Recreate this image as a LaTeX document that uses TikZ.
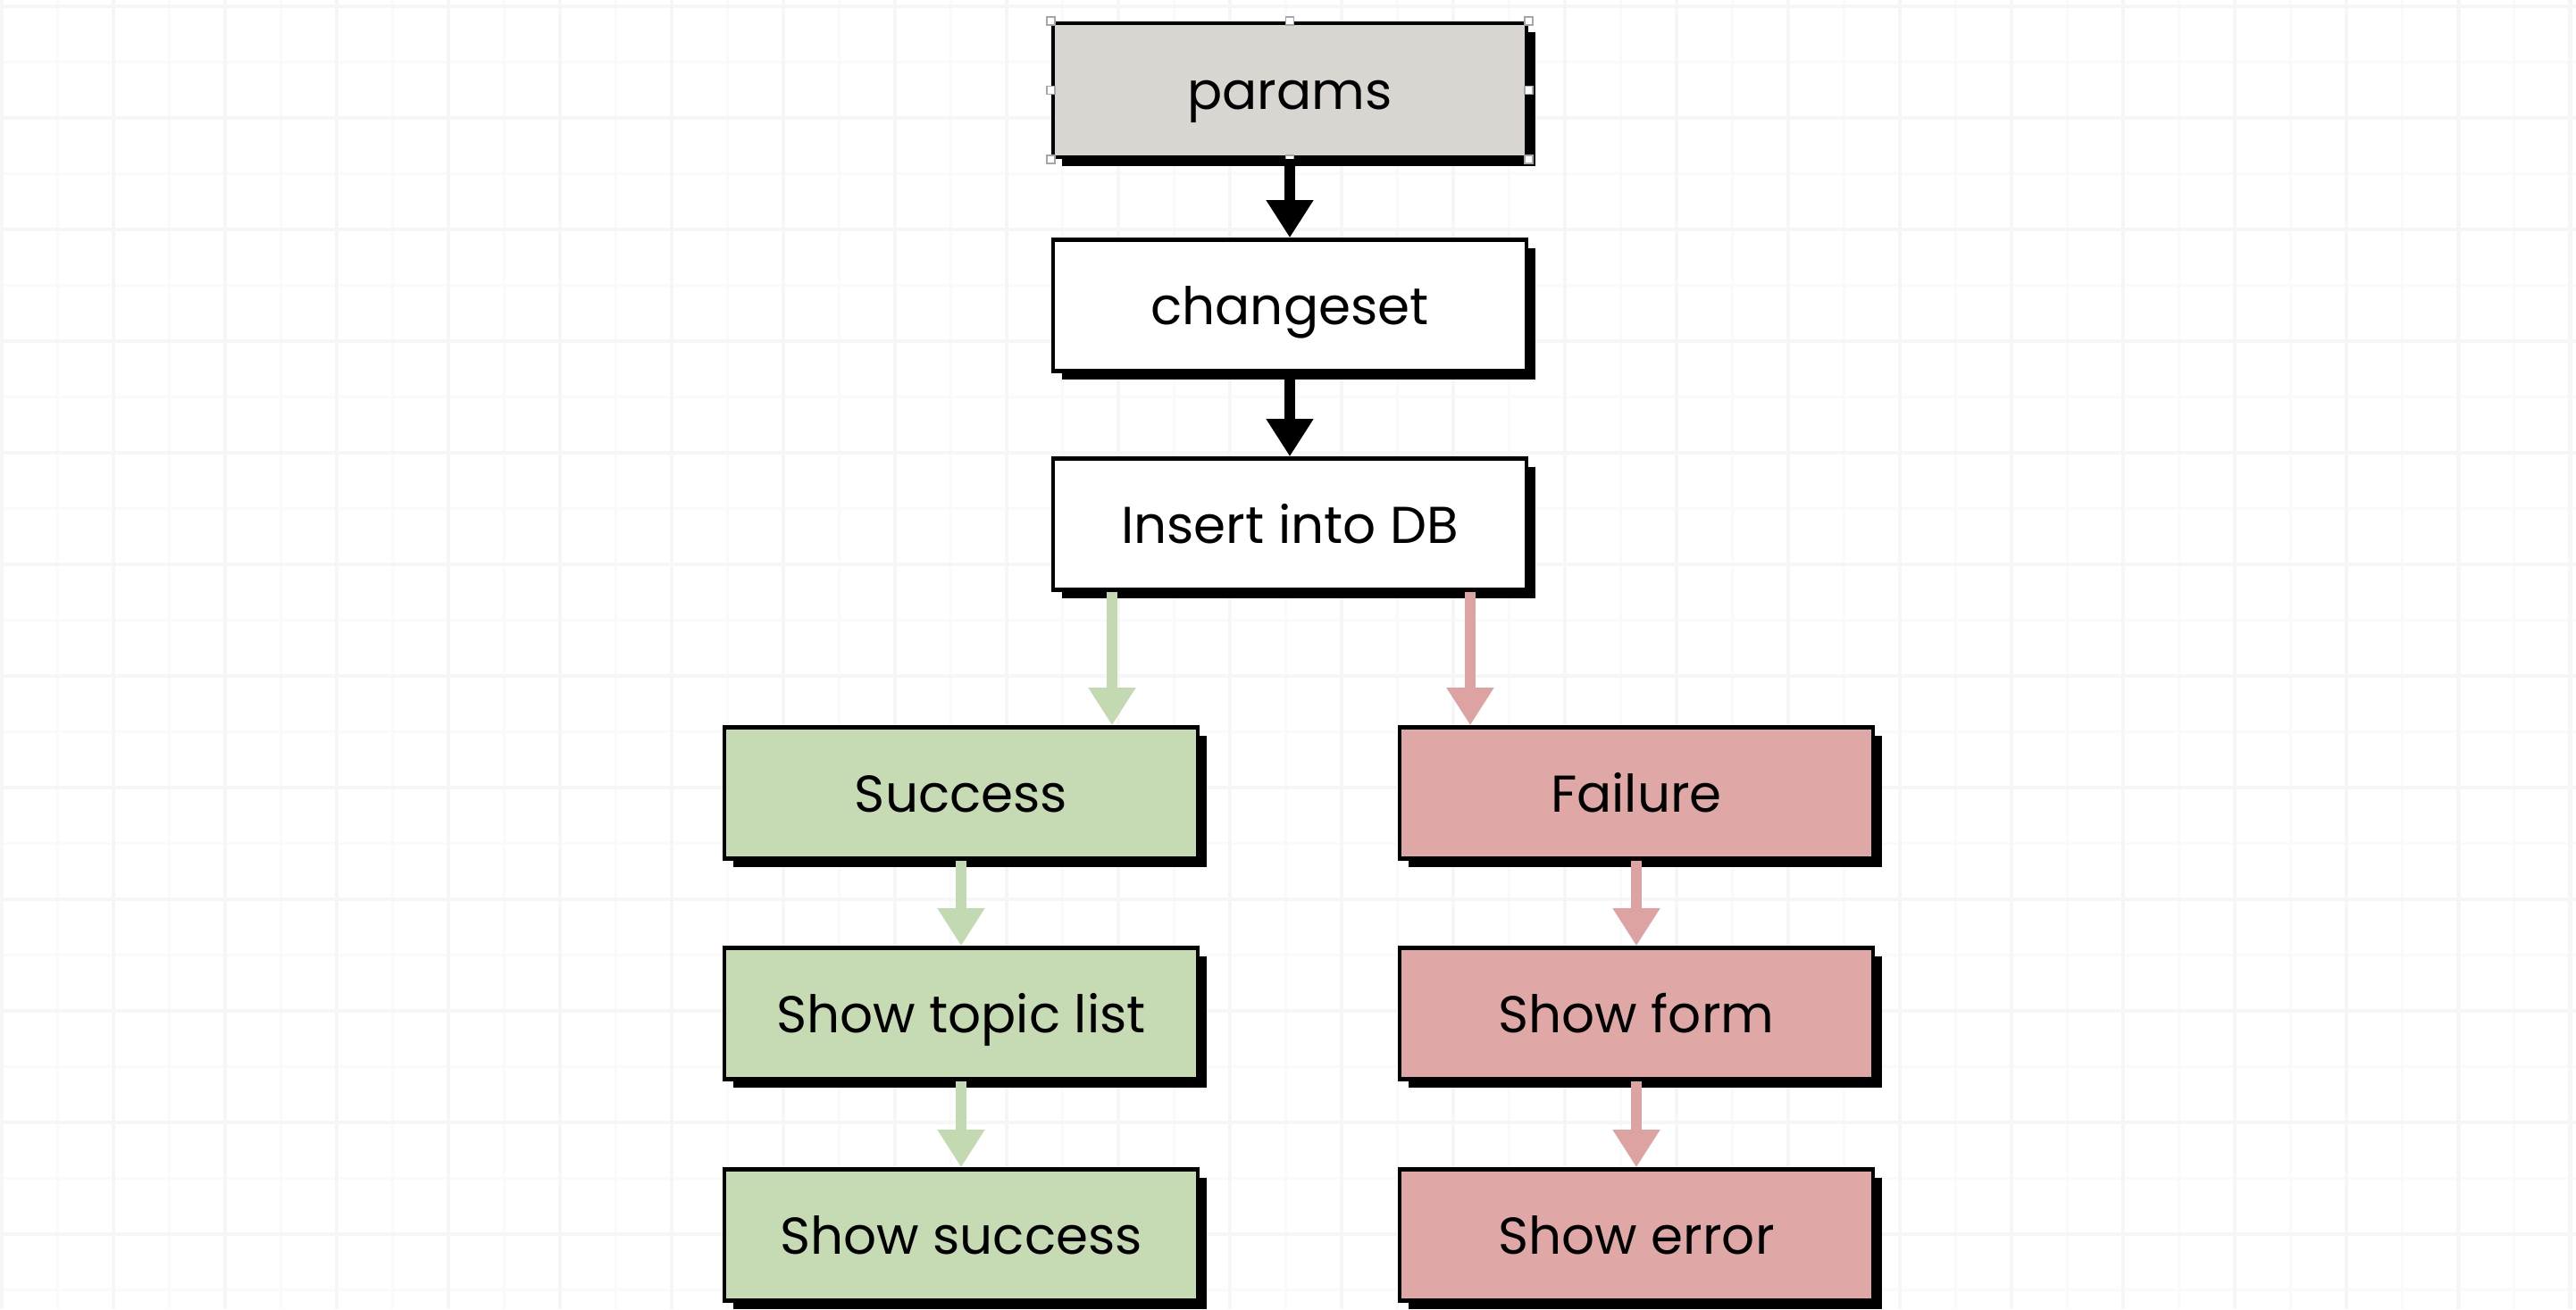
\documentclass[tikz,border=0pt]{standalone}
\usepackage{fontspec}
\setmainfont{Poppins}
\usetikzlibrary{arrows.meta,shadows}
\definecolor{paramsgray}{HTML}{D9D5D1}
\definecolor{okgreen}{HTML}{C6DBB3}
\definecolor{failred}{HTML}{DFA8A6}
\definecolor{okarrowc}{HTML}{C3D9B1}
\definecolor{failarrowc}{HTML}{DDA3A2}
\tikzset{
  stepbox/.style={draw=black, line width=1.3pt, minimum width=5.3cm, minimum height=1.47cm,
    inner sep=0pt, font=\fontsize{16.5}{20}\selectfont, text height=1.4em, text depth=0.2em,
    general shadow={fill=black, shadow xshift=2.8pt, shadow yshift=-2.8pt}},
  flow/.style={line width=3.6pt, -{Triangle[width=0.5cm,length=0.42cm]}},
  handle/.style={draw=gray!70, fill=white, line width=0.5pt, minimum size=0.09cm, inner sep=0pt},
}
\begin{document}
\begin{tikzpicture}
  \useasboundingbox (0,0) rectangle (28.84,14.66);
  % Background grid.
  \fill[white] (0,0) rectangle (28.84,14.66);
  \foreach \x in {0,...,46} {
    \draw[gray!4, line width=0.6pt] (0.02+0.625*\x,0) -- (0.02+0.625*\x,14.66);
  }
  \foreach \y in {0,...,23} {
    \draw[gray!4, line width=0.6pt] (0,14.59-0.625*\y) -- (28.84,14.59-0.625*\y);
  }
  \foreach \x in {0,...,23} {
    \draw[gray!7, line width=1.4pt] (0.02+1.25*\x,0) -- (0.02+1.25*\x,14.66);
  }
  \foreach \y in {0,...,11} {
    \draw[gray!7, line width=1.4pt] (0,14.59-1.25*\y) -- (28.84,14.59-1.25*\y);
  }
  % Main column.
  \node[stepbox, fill=paramsgray, minimum height=1.5cm] (params) at (14.44,13.65) {params};
  \node[stepbox, fill=white] (changeset) at (14.44,11.24) {changeset};
  \node[stepbox, fill=white] (insert) at (14.44,8.79) {Insert into DB};
  % Success branch.
  \node[stepbox, fill=okgreen] (success) at (10.76,5.78) {Success};
  \node[stepbox, fill=okgreen] (topics) at (10.76,3.31) {Show topic list};
  \node[stepbox, fill=okgreen] (showsuccess) at (10.76,0.83) {Show success};
  % Failure branch.
  \node[stepbox, fill=failred] (failure) at (18.32,5.78) {Failure};
  \node[stepbox, fill=failred] (showform) at (18.32,3.31) {Show form};
  \node[stepbox, fill=failred] (showerror) at (18.32,0.83) {Show error};
  % Selection handles.
  \foreach \a in {north west,north,north east,east,south east,south,south west,west} {
    \node[handle] at (params.\a) {};
  }
  % Connectors.
  \coordinate (okx) at (12.45,0);
  \coordinate (failx) at (16.46,0);
  \draw[flow, black] (params.south) -- (changeset.north);
  \draw[flow, black] (changeset.south) -- (insert.north);
  \draw[flow, okarrowc] (insert.south -| okx) -- (success.north -| okx);
  \draw[flow, failarrowc] (insert.south -| failx) -- (failure.north -| failx);
  \draw[flow, okarrowc] (success.south) -- (topics.north);
  \draw[flow, okarrowc] (topics.south) -- (showsuccess.north);
  \draw[flow, failarrowc] (failure.south) -- (showform.north);
  \draw[flow, failarrowc] (showform.south) -- (showerror.north);
\end{tikzpicture}
\end{document}
